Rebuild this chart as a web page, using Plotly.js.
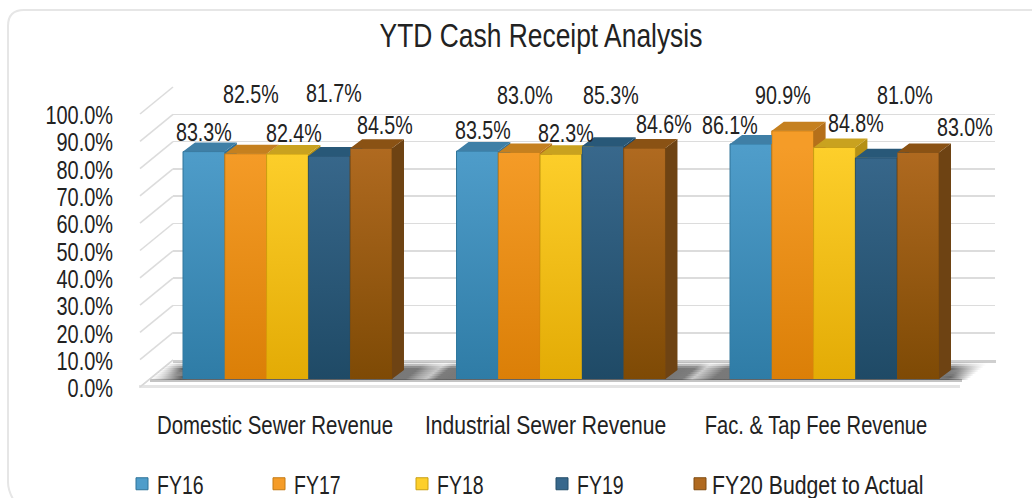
<!DOCTYPE html>
<html><head><meta charset="utf-8">
<script src="https://cdn.plot.ly/plotly-3.0.1.min.js"></script>
<style>html,body{margin:0;padding:0;background:#fff;overflow:hidden}#c{width:1032px;height:498px}</style>
</head><body><div id="c"></div>
<script>
const categories = ['Domestic Sewer Revenue','Industrial Sewer Revenue','Fac. & Tap Fee Revenue'];
const seriesNames = ['FY16','FY17','FY18','FY19','FY20 Budget to Actual'];
const fy16 = [83.3,83.5,86.1];
const fy17 = [82.5,83.0,90.9];
const fy18 = [82.4,82.3,84.8];
const fy19 = [81.7,85.3,81.0];
const fy20 = [84.5,84.6,83.0];
const series = [fy16,fy17,fy18,fy19,fy20];
const frontColors  = ['#4f9dca','#f59c28','#fdcf2b','#38688c','#b06a20'];
const bottomColors = ['47,124,166','219,127,7','227,171,5','31,74,102','126,74,5'];
const edgeColors   = ['#2f7398','#c47a12','#c99f12','#234c69','#7f4b10'];
const topColors    = ['#3f7fa6','#c5801f','#c9a21f','#285878','#8a5214'];
const sideColors   = ['#2f6f97','#b5701a','#b59015','#1f4865','#6e4313'];
// label positions in pixels
const labelX = [[204,483,730],[251,525,783],[294,566,856],[334,611,905],[385,664,965]];
const labelY = [[132,130,125],[94,95,95],[133,133,123],[93,95,95],[125,124,127]];
const legendX = [122,259,402,542,680];
const catNarrow = [0.785,0.81,0.775];

const W=1032,H=498;
const FONT='"Liberation Sans",sans-serif';
const INK='#222222';
const fx=p=>p/W, fy=p=>1-p/H;
const domY=(top,bot)=>[fy(bot),fy(top)];
const domX=(l,r)=>[fx(l),fx(r)];

const gapFrac=0.236, barW=(1-gapFrac)/5;
const depthX=12/273.5, depthY=9/2.73;
const barLeft=(c,s)=>c-(1-gapFrac)/2+s*barW;

const xs=[0,1,2];
const traces=[];
// floor shadow on a pixel-scaled backdrop axis pair: rows of horizontal gradients, skewed row by row
const skew=33/27;
function shadowAlpha(x,off,L,R){
  if(x<184){const t=Math.max((x-L)/(184-L),0);return 0.8*Math.pow(t,1.3);}
  if(x>=950){return 0.74*(1-Math.min(1,(x-950)/(R-950)));}
  const band=(a,b)=>{const u=(x+off-a)/(b-a);return 0.64*(1-0.72*Math.exp(-Math.pow((u-0.8)/0.15,2)));};
  if(x<560)return band(405,456);
  return band(678,729);
}
for(let y=362;y<379;y+=2){
  const off=(y+1-360)*skew, L=173-off, R=992-off, vfac=Math.min(1,(y-361)/6);
  const stops=[];
  for(let i=0;i<=80;i++){
    const x=L+(R-L)*i/80;
    stops.push([i/80,`rgba(45,45,45,${(shadowAlpha(x,off,L,R)*vfac).toFixed(3)})`]);
  }
  traces.push({type:'scatter',x:[L,R,R,L,L],y:[y,y,y+2,y+2,y],xaxis:'x',yaxis:'y',mode:'lines',line:{width:0},fill:'toself',
    fillgradient:{type:'horizontal',start:L,stop:R,colorscale:stops},showlegend:false,hoverinfo:'skip'});
}
traces.push({type:'scatter',x:xs,y:[0,0,0],xaxis:'x2',yaxis:'y2',mode:'markers',marker:{opacity:0,size:1},showlegend:false,hoverinfo:'skip'});
traces.push({type:'scatter',x:categories,y:[0,0,0],xaxis:'x3',yaxis:'y3',mode:'markers',marker:{opacity:0,size:1},showlegend:false,hoverinfo:'skip'});
series.forEach((vals,s)=>traces.push({type:'bar',name:seriesNames[s],x:xs,y:vals,xaxis:'x4',yaxis:'y4',
  legend:s===0?'legend':'legend'+(s+1),
  marker:{color:frontColors[s],line:{color:edgeColors[s],width:1}},hoverinfo:'y'}));
series.forEach((vals,s)=>{
  const shadeX=[],shadeY=[];
  vals.forEach((v,c)=>{const a=barLeft(c,s),b=a+barW;
    shadeX.push(a,b,b,a,a,null);shadeY.push(0,0,v,v,0,null);});
  traces.push({type:'scatter',x:shadeX,y:shadeY,xaxis:'x4',yaxis:'y4',mode:'lines',line:{width:0},fill:'toself',
    fillgradient:{type:'vertical',start:0,stop:85,colorscale:[[0,`rgba(${bottomColors[s]},1)`],[1,`rgba(${bottomColors[s]},0)`]]},
    showlegend:false,hoverinfo:'skip'});
});
series.forEach((vals,s)=>{
  const tx=[],ty=[],sx=[],sy=[];
  vals.forEach((v,c)=>{
    const a=barLeft(c,s),b=a+barW;
    const next=s<4?series[s+1][c]:0;
    if(next>=v+depthY){tx.push(a,b,b,a+depthX,a,null);ty.push(v,v,v+depthY,v+depthY,v,null);}
    else if(next>v){const f=(next-v)/depthY;
      tx.push(a,b,b,b+f*depthX,b+depthX,a+depthX,a,null);ty.push(v,v,next,next,v+depthY,v+depthY,v,null);}
    else{tx.push(a,b,b+depthX,a+depthX,a,null);ty.push(v,v,v+depthY,v+depthY,v,null);}
    if(next<v+depthY){
      const low=Math.max(next,0);
      if(s===4){sx.push(b,b+depthX,b+depthX,b,b,null);sy.push(0,depthY,v+depthY,v,0,null);}
      else if(next<=v){sx.push(b,b+depthX,b+depthX,b,b,null);sy.push(low,low,v+depthY,v,low,null);}
      else{const f=(next-v)/depthY;sx.push(b+f*depthX,b+depthX,b+depthX,b+f*depthX,null);sy.push(next,next,v+depthY,next,null);}
    }
  });
  traces.push({type:'scatter',x:sx,y:sy,xaxis:'x4',yaxis:'y4',mode:'lines',line:{width:0},fill:'toself',fillcolor:sideColors[s],showlegend:false,hoverinfo:'skip'});
  traces.push({type:'scatter',x:tx,y:ty,xaxis:'x4',yaxis:'y4',mode:'lines',line:{width:0},fill:'toself',fillcolor:topColors[s],showlegend:false,hoverinfo:'skip'});
});

const shapes=[];
shapes.push({type:'path',xref:'paper',yref:'paper',layer:'below',line:{color:'#e6e6e6',width:2},
  path:`M${fx(1040)},${fy(10)} L${fx(24)},${fy(10)} Q${fx(8)},${fy(10)} ${fx(8)},${fy(26)} L${fx(8)},${fy(482)} Q${fx(8)},${fy(492)} ${fx(16)},${fy(504)}`});
for(let v=0;v<=100;v+=10){
  shapes.push({type:'line',xref:'paper',yref:'paper',layer:'below',x0:fx(140),x1:fx(173),
    y0:fy(387-2.73*v),y1:fy(360-2.73*v),line:{color:'#dcdcdc',width:1.6}});
}
shapes.push({type:'rect',xref:'paper',yref:'paper',layer:'below',x0:fx(173),x1:fx(996),y0:fy(360),y1:fy(363),line:{width:0},fillcolor:'#cfcfcf'});
shapes.push({type:'rect',xref:'paper',yref:'paper',layer:'below',x0:fx(150),x1:fx(962),y0:fy(379),y1:fy(382),line:{width:0},fillcolor:'#c4c4c4'});
shapes.push({type:'rect',xref:'paper',yref:'paper',layer:'below',x0:fx(139),x1:fx(960),y0:fy(385),y1:fy(388),line:{width:0},fillcolor:'#e4e4e4'});
shapes.push({type:'line',xref:'paper',yref:'paper',layer:'below',x0:fx(140),x1:fx(173),y0:fy(387),y1:fy(360),line:{color:'#d8d8d8',width:1.6}});

const annotations=[];
series.forEach((vals,s)=>vals.forEach((v,c)=>annotations.push({
  xref:'paper',yref:'paper',x:fx(labelX[s][c]),y:fy(labelY[s][c]),xanchor:'center',yanchor:'middle',showarrow:false,
  text:v.toFixed(1)+'%',font:{family:FONT,size:26,color:INK}})));

const hidden={visible:true,showgrid:false,zeroline:false,showline:false,showticklabels:false,ticks:''};
const layout={
  width:W,height:H,margin:{l:0,r:0,t:0,b:0,pad:0,autoexpand:false},paper_bgcolor:'#fff',plot_bgcolor:'rgba(0,0,0,0)',
  title:{text:'YTD Cash Receipt Analysis',font:{family:FONT,size:33,color:INK},x:541/W,xanchor:'center',xref:'paper',y:1-35/H,yanchor:'middle',yref:'container'},
  barmode:'group',bargap:gapFrac,bargroupgap:0,
  showlegend:true,
  xaxis:Object.assign({},hidden,{domain:[0,1],range:[0,W],anchor:'y'}),
  yaxis:Object.assign({},hidden,{domain:[0,1],range:[H,0],anchor:'x'}),
  xaxis2:Object.assign({},hidden,{domain:domX(173,995),range:[-0.5,2.5],anchor:'y2'}),
  yaxis2:{domain:domY(87,360),range:[0,100],dtick:10,showgrid:true,gridcolor:'#dcdcdc',gridwidth:1.6,zeroline:false,showline:false,showticklabels:false,ticks:'',anchor:'x2'},
  xaxis3:{type:'category',domain:domX(139.75,951.25),range:[-0.5,2.5],anchor:'free',position:fy(407),showgrid:false,zeroline:false,showline:false,ticks:'',
    tickfont:{family:FONT,size:26,color:INK},tickangle:0,automargin:false},
  yaxis3:{domain:domY(115,388),range:[0,100],dtick:10,anchor:'free',position:fx(113),showgrid:false,zeroline:false,showline:false,ticks:'',
    ticksuffix:'%',tickformat:'.1f',tickfont:{family:FONT,size:26,color:INK},automargin:false},
  xaxis4:Object.assign({},hidden,{domain:domX(150.75,971.25),range:[-0.5,2.5],anchor:'y4',type:'linear'}),
  yaxis4:Object.assign({},hidden,{domain:domY(106,379),range:[0,100],anchor:'x4'}),
  shapes,annotations
};
legendX.forEach((lx,s)=>{
  layout[s===0?'legend':'legend'+(s+1)]={x:fx(lx),y:fy(484),xanchor:'left',yanchor:'middle',orientation:'h',
    font:{family:FONT,size:25,color:INK},itemwidth:30,bgcolor:'rgba(0,0,0,0)',borderwidth:0};
});

// The reference's lettering is a narrow face; no narrow family is installed, so narrow the real text in place.
function narrow(sel,k,dx){
  document.querySelectorAll(sel).forEach((t,i)=>{
    const w=t.getComputedTextLength();
    if(!w)return;
    const f=Array.isArray(k)?k[i]:k;
    t.setAttribute('lengthAdjust','spacingAndGlyphs');
    t.setAttribute('textLength',(w*f).toFixed(1));
    if(dx)t.setAttribute('x',parseFloat(t.getAttribute('x')||0)+dx);
  });
}
Plotly.newPlot('c',traces,layout,{displayModeBar:false,staticPlot:true}).then(()=>{
  narrow('.gtitle',0.80);
  narrow('.x3tick text',catNarrow);
  narrow('.y3tick text',0.766);
  narrow('.annotation-text',0.757);
  narrow('.legendtext,.legend2text,.legend3text,.legend4text',0.78,-5);
  narrow('.legend5text',0.85,-8);
  document.querySelectorAll('.legendbar').forEach(p=>{
    p.setAttribute('transform',(p.getAttribute('transform')||'')+' scale(1.15)');
  });
});
</script></body></html>
